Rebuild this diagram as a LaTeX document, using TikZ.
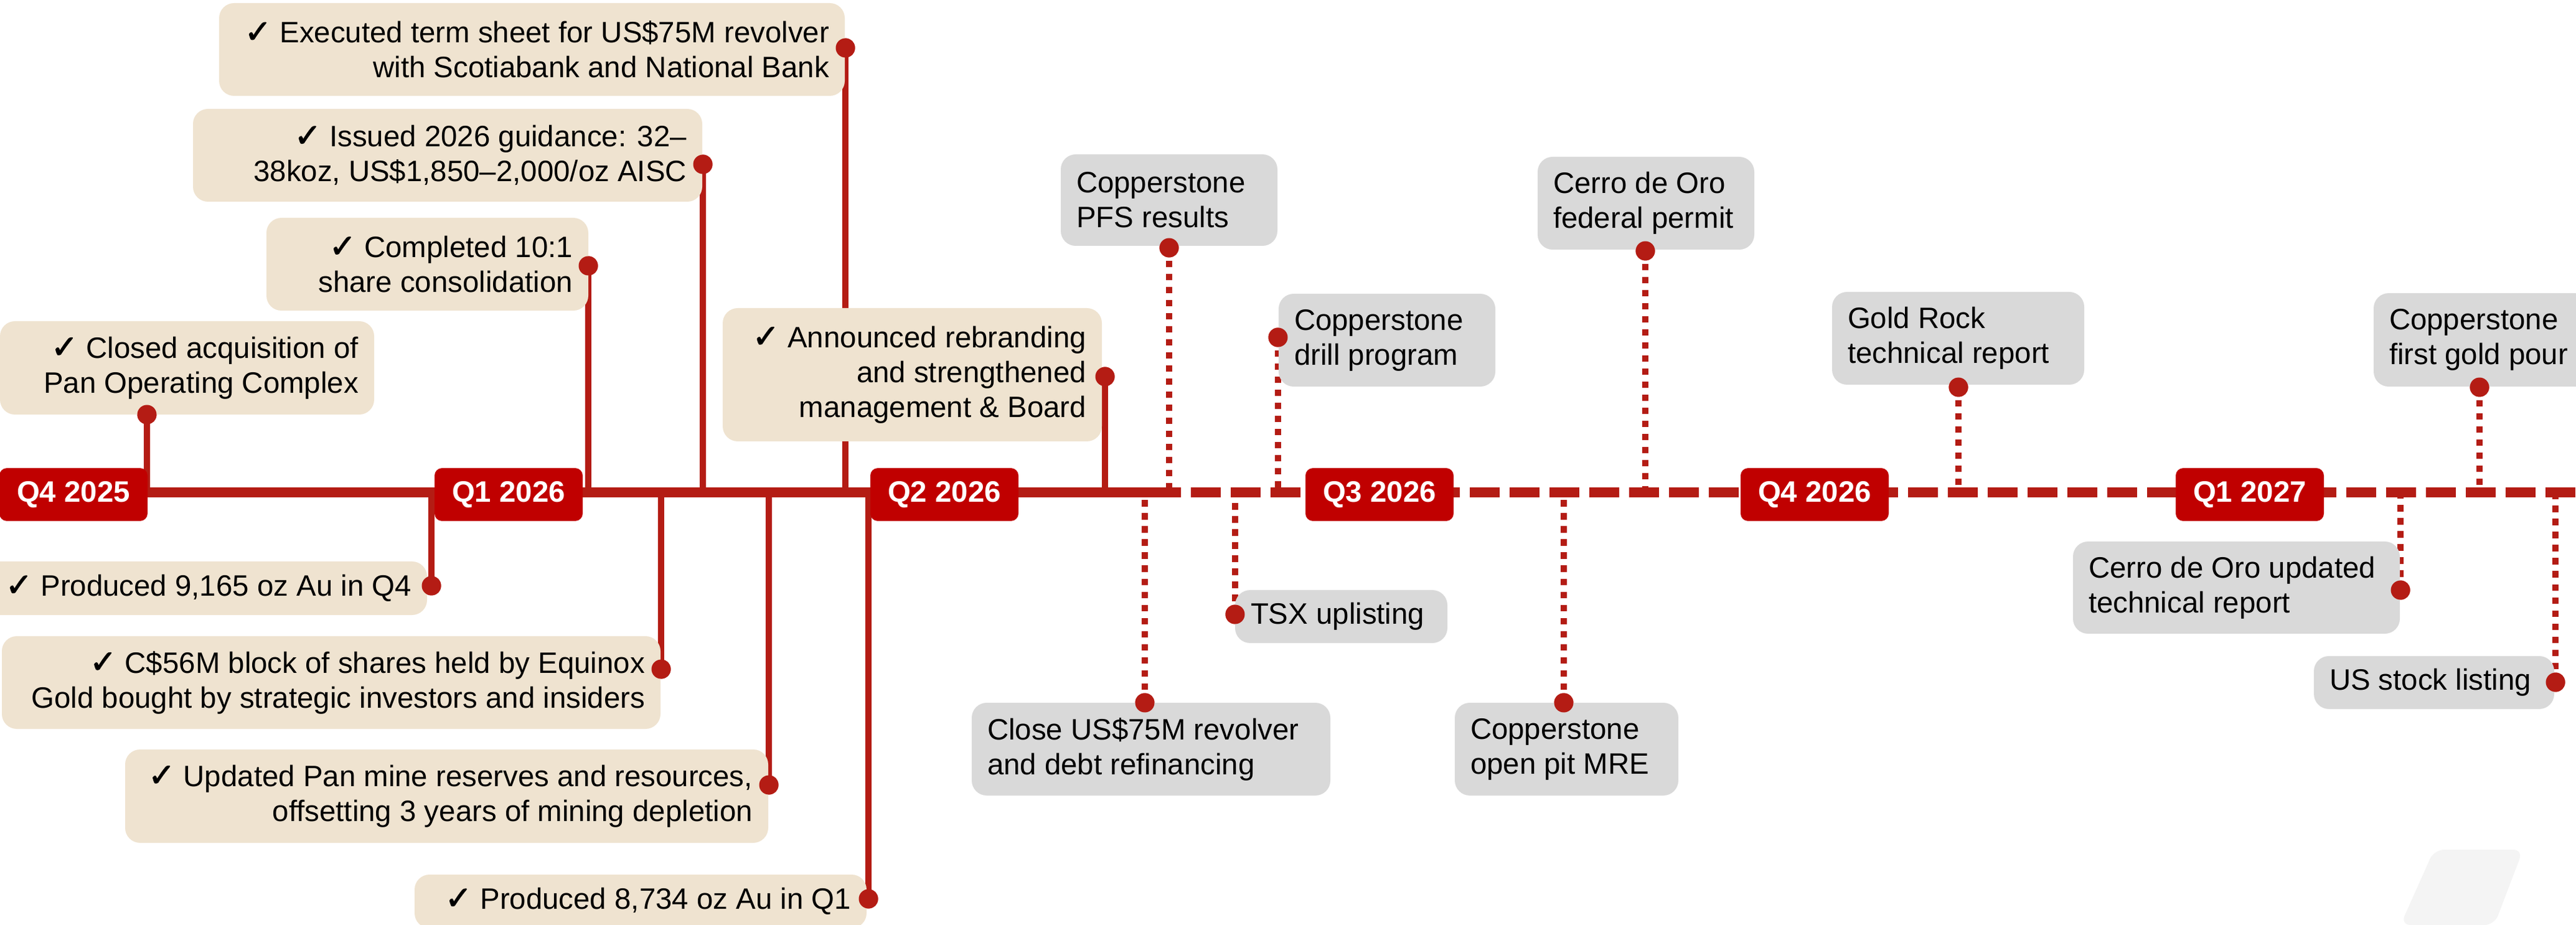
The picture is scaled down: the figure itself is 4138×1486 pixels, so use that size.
\documentclass[tikz,border=0pt]{standalone}
\usepackage{fontspec}
\setmainfont{Liberation Sans}
\newfontfamily\chkfont[FakeBold=2,Scale=1.1]{DejaVu Sans}
\newcommand\ck{{\chkfont ✓}\ }
\definecolor{linered}{RGB}{180,28,20}
\definecolor{qred}{RGB}{192,0,0}
\definecolor{beige}{RGB}{239,227,208}
\definecolor{greybox}{RGB}{217,217,217}
\definecolor{ghost}{RGB}{244,244,244}
\newcommand\fsz{\fontsize{11.85pt}{14pt}\selectfont}
\begin{document}
\begin{tikzpicture}[x=0.25pt,y=-0.25pt,
  donebox/.style={fill=beige, rounded corners=6pt, inner sep=0pt},
  planbox/.style={fill=greybox, rounded corners=6pt, inner sep=0pt},
  qbox/.style={fill=qred, rounded corners=3pt, minimum width=59.5pt, minimum height=21.25pt, inner sep=0pt, text=white, font=\fsz\bfseries},
  rtext/.style={anchor=east, align=right, inner sep=0pt, font=\fsz},
  ltext/.style={anchor=west, align=left, inner sep=0pt, font=\fsz},
  dotmark/.style={circle, fill=linered, minimum size=7.75pt, inner sep=0pt},
  solidconn/.style={draw=linered, line width=2.5pt},
  dottedconn/.style={draw=linered, line width=2.625pt, dash pattern=on 2.625pt off 2.625pt},
  tlsolid/.style={draw=linered, line width=4pt},
  tldashed/.style={draw=linered, line width=4pt, dash pattern=on 12pt off 4pt},
]
\useasboundingbox (0,0) rectangle (4138,1486);

% watermark shape
\fill[ghost, rounded corners=4pt] (3910,1365) -- (4053,1365) -- (4007,1486) -- (3856,1486) -- cycle;

% timeline
\coordinate (tlS) at (0,791);
\coordinate (tlM) at (1849,791);
\coordinate (tlE) at (4138,791);
\draw[tlsolid] (tlS) -- (tlM);
\draw[tldashed] (tlM) -- (tlE);

% dots (positions)
\node[dotmark] (d1) at (1358,77) {};
\node[dotmark] (d2) at (1129,264) {};
\node[dotmark] (d3) at (945,427) {};
\node[dotmark] (d4) at (236,666) {};
\node[dotmark] (d5) at (1775,605) {};
\node[dotmark] (d6) at (693,941) {};
\node[dotmark] (d7) at (1062,1075) {};
\node[dotmark] (d8) at (1235,1261) {};
\node[dotmark] (d9) at (1395,1444) {};
\node[dotmark] (g1) at (1878,398) {};
\node[dotmark] (g2) at (2053,542) {};
\node[dotmark] (g3) at (2643,403) {};
\node[dotmark] (g4) at (1839,1129) {};
\node[dotmark] (g5) at (1984,987) {};
\node[dotmark] (g6) at (2512,1129) {};
\node[dotmark] (g7) at (3146,622) {};
\node[dotmark] (g8) at (3983,622) {};
\node[dotmark] (g9) at (3856,948) {};
\node[dotmark] (g10) at (4105,1096) {};

% connectors
\foreach \d in {d1,d2,d3,d4,d5,d6,d7,d8,d9}{
  \draw[solidconn] (\d.center) -- (\d |- tlS);
}
\foreach \d in {g1,g2,g3,g4,g5,g6,g7,g8,g9,g10}{
  \draw[dottedconn] (\d.center) -- (\d |- tlS);
}

% completed (beige) boxes
\node[donebox, minimum width=251.25pt, minimum height=37.25pt] (b1) at (854.5,79.5) {};
\node[donebox, minimum width=204.5pt, minimum height=37.25pt] (b2) at (719,249.5) {};
\node[donebox, minimum width=129.25pt, minimum height=37.25pt] (b3) at (686.5,424.5) {};
\node[donebox, minimum width=150.25pt, minimum height=37.5pt] (b4) at (300.5,591) {};
\node[donebox, minimum width=152.25pt, minimum height=53.5pt] (b5) at (1465.5,602) {};
\node[donebox, minimum width=181.5pt, minimum height=21.5pt] (b6) at (323,945) {};
\node[donebox, minimum width=264.5pt, minimum height=37.25pt] (b7) at (532,1096.5) {};
\node[donebox, minimum width=258.25pt, minimum height=37.5pt] (b8) at (717.5,1279) {};
\node[donebox, minimum width=181.5pt, minimum height=21.5pt] (b9) at (1029,1448) {};

\node[rtext] (t1) at ([xshift=-6.25pt]b1.east) {\ck Executed term sheet for US\$75M revolver\\with Scotiabank and National Bank};
\node[rtext] (t2) at ([xshift=-6.25pt]b2.east) {\ck Issued 2026 guidance: 32–\\38koz, US\$1,850–2,000/oz AISC};
\node[rtext] (t3) at ([xshift=-6.25pt]b3.east) {\ck Completed 10:1\\share consolidation};
\node[rtext] (t4) at ([xshift=-6.25pt]b4.east) {\ck Closed acquisition of\\Pan Operating Complex};
\node[rtext] (t5) at ([xshift=-6.25pt]b5.east) {\ck Announced rebranding\\and strengthened\\management \& Board};
\node[rtext] (t6) at ([xshift=-6.25pt]b6.east) {\ck Produced 9,165 oz Au in Q4};
\node[rtext] (t7) at ([xshift=-6.25pt]b7.east) {\ck C\$56M block of shares held by Equinox\\Gold bought by strategic investors and insiders};
\node[rtext] (t8) at ([xshift=-6.25pt]b8.east) {\ck Updated Pan mine reserves and resources,\\offsetting 3 years of mining depletion};
\node[rtext] (t9) at ([xshift=-6.25pt]b9.east) {\ck Produced 8,734 oz Au in Q1};

% planned (grey) boxes
\node[planbox, minimum width=87pt, minimum height=36.75pt] (p1) at (1878,321.5) {};
\node[planbox, minimum width=87pt, minimum height=37.25pt] (p2) at (2228,546.5) {};
\node[planbox, minimum width=87pt, minimum height=37.25pt] (p3) at (2644,326.5) {};
\node[planbox, minimum width=144pt, minimum height=37.25pt] (p4) at (1849,1203.5) {};
\node[planbox, minimum width=85.25pt, minimum height=21.25pt] (p5) at (2154.5,990.5) {};
\node[planbox, minimum width=89.75pt, minimum height=37.25pt] (p6) at (2516.5,1203.5) {};
\node[planbox, minimum width=101.25pt, minimum height=37.25pt] (p7) at (3145.5,543.5) {};
\node[planbox, minimum width=87pt, minimum height=37.5pt] (p8) at (3987,546) {};
\node[planbox, minimum width=131.25pt, minimum height=37pt] (p9) at (3592.5,944) {};
\node[planbox, minimum width=96.5pt, minimum height=21.25pt] (p10) at (3910,1096.5) {};

\node[ltext] (s1) at ([xshift=6.25pt]p1.west) {Copperstone\\PFS results};
\node[ltext] (s2) at ([xshift=6.25pt]p2.west) {Copperstone\\drill program};
\node[ltext] (s3) at ([xshift=6.25pt]p3.west) {Cerro de Oro\\federal permit};
\node[ltext] (s4) at ([xshift=6.25pt]p4.west) {Close US\$75M revolver\\and debt refinancing};
\node[ltext] (s5) at ([xshift=6.25pt]p5.west) {TSX uplisting};
\node[ltext] (s6) at ([xshift=6.25pt]p6.west) {Copperstone\\open pit MRE};
\node[ltext] (s7) at ([xshift=6.25pt]p7.west) {Gold Rock\\technical report};
\node[ltext] (s8) at ([xshift=6.25pt]p8.west) {Copperstone\\first gold pour};
\node[ltext] (s9) at ([xshift=6.25pt]p9.west) {Cerro de Oro updated\\technical report};
\node[ltext] (s10) at ([xshift=6.25pt]p10.west) {US stock listing};

% quarter labels
\node[qbox] (q1) at (118,794.5) {Q4 2025};
\node[qbox] (q2) at (817,794.5) {Q1 2026};
\node[qbox] (q3) at (1517,794.5) {Q2 2026};
\node[qbox] (q4) at (2216,794.5) {Q3 2026};
\node[qbox] (q5) at (2915,794.5) {Q4 2026};
\node[qbox] (q6) at (3614,794.5) {Q1 2027};

% dots on top
\foreach \d in {d1,d2,d3,d4,d5,d6,d7,d8,d9,g1,g2,g3,g4,g5,g6,g7,g8,g9,g10}{
  \fill[linered] (\d) circle[radius=3.875pt];
}
\end{tikzpicture}
\end{document}
